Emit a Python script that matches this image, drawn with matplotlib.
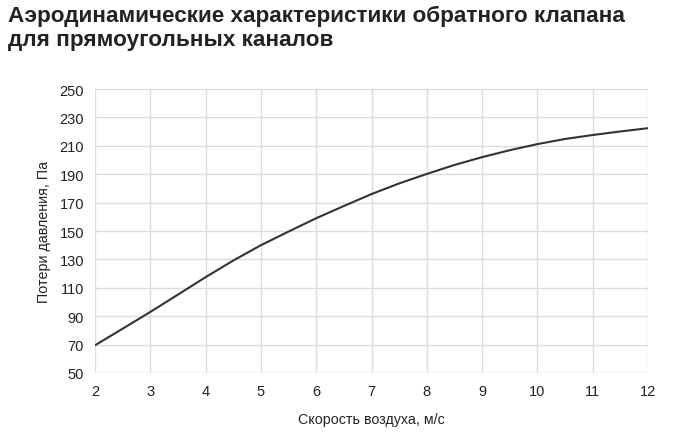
import matplotlib.pyplot as plt

# air velocity, m/s and pressure loss, Pa
speed = [2, 2.5, 3, 3.5, 4, 4.5, 5, 5.5, 6, 6.5, 7,
         7.5, 8, 8.5, 9, 9.5, 10, 10.5, 11, 11.5, 12]
loss = [69.5, 81.2, 93, 105.2, 117.5, 129.2, 140, 149.6, 159, 167.6, 176,
        183.5, 190.2, 196.5, 202, 206.9, 211.2, 214.8, 217.6, 220.1, 222.4]

x_ticks = [2, 3, 4, 5, 6, 7, 8, 9, 10, 11, 12]
y_ticks = [50, 70, 90, 110, 130, 150, 170, 190, 210, 230, 250]

plt.rcParams['font.family'] = ['Liberation Sans', 'DejaVu Sans']

fig = plt.figure(figsize=(7, 4.35), dpi=100)
ax = fig.add_axes([95 / 700, 1 - 374 / 435, (648 - 95) / 700, (374 - 90) / 435])

ax.plot(speed, loss, color='#333333', linewidth=1.5, solid_capstyle='butt')

ax.set_xlim(2, 12)
ax.set_ylim(50, 250)
ax.set_xticks(x_ticks)
ax.set_yticks(y_ticks)
ax.grid(True, color='#dcdcdc', linewidth=1)
ax.set_axisbelow(True)
for s in ax.spines.values():
    s.set_visible(False)
ax.tick_params(length=0, labelsize=10.5, colors='#222222', pad=8)

ax.set_xlabel('Скорость воздуха, м/с', fontsize=10.3, color='#222222', labelpad=10)
ax.set_ylabel('Потери давления, Па', fontsize=10.3, color='#222222', labelpad=6)

fig.text(8 / 700, 1 - 6 / 435,
         'Аэродинамические характеристики обратного клапана\nдля прямоугольных каналов',
         fontsize=16.2, fontweight='bold', color='#222222', va='top', ha='left',
         linespacing=1.2)

fig.savefig('out.png', dpi=100)
